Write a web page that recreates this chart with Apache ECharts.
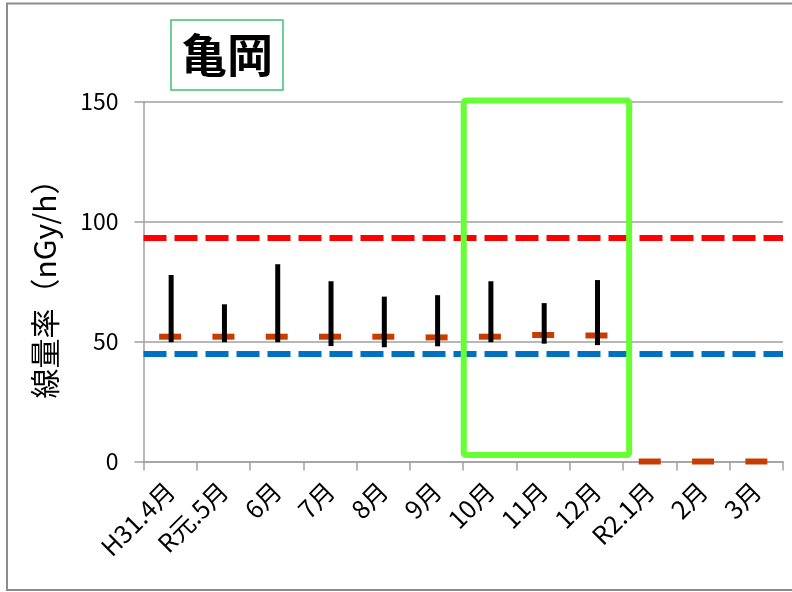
<!DOCTYPE html>
<html>
<head>
<meta charset="utf-8">
<script src="https://cdn.jsdelivr.net/npm/echarts@6/dist/echarts.min.js"></script>
<style>
html,body{margin:0;padding:0;background:#fff;}
#chart{width:792px;height:592px;}
</style>
</head>
<body>
<div id="chart"></div>
<script>
const categories = ['H31.4月','R元.5月','6月','7月','8月','9月','10月','11月','12月','R2.1月','2月','3月'];
const maxVals  = [77.7, 65.5, 82.2, 75.1, 68.7, 69.3, 75.1, 66.0, 75.6, null, null, null];
const minVals  = [49.7, 49.7, 49.7, 48.1, 47.6, 48.0, 49.7, 49.1, 48.5, null, null, null];
const meanVals = [52.0, 52.0, 52.0, 52.0, 52.0, 51.7, 52.0, 52.7, 52.5, 0, 0, 0];
const upperLimit = 93.4;
const lowerLimit = 44.7;
const yTicks = [0, 50, 100, 150];
const titleText = '亀岡';
const yName = '線量率（nGy/h）';

const FONT = '"Noto Sans CJK JP", "Noto Sans", sans-serif';
const chart = echarts.init(document.getElementById('chart'), null, {renderer: 'canvas'});

const rangeData = [];
categories.forEach((c, i) => {
  if (maxVals[i] != null && minVals[i] != null) rangeData.push([i, minVals[i], maxVals[i]]);
});

const option = {
  animation: false,
  backgroundColor: '#fff',
  title: {
    text: titleText,
    left: 171, top: 20,
    padding: [11, 10, 11, 10],
    borderColor: '#3CC36E', borderWidth: 1.5,
    textStyle: {fontFamily: FONT, fontSize: 46, fontWeight: 'bold', color: '#000', lineHeight: 48}
  },
  grid: {left: 143.5, right: 9, top: 101.5, bottom: 130.5, containLabel: false},
  xAxis: {
    type: 'category',
    data: categories,
    axisLine: {lineStyle: {color: '#A0A0A0', width: 1.5}},
    axisTick: {show: true, length: 9, lineStyle: {color: '#A0A0A0', width: 1.5}},
    axisLabel: {rotate: 45, fontSize: 25, color: '#000', fontFamily: FONT, margin: 25, interval: 0},
    splitLine: {show: false}
  },
  yAxis: {
    type: 'value', min: 0, max: 150, interval: 50,
    name: yName, nameLocation: 'middle', nameGap: 84, nameRotate: 90,
    nameTextStyle: {fontSize: 30, color: '#000', fontFamily: FONT},
    axisLine: {show: true, lineStyle: {color: '#A0A0A0', width: 1.5}},
    axisTick: {show: true, length: 9, lineStyle: {color: '#A0A0A0', width: 1.5}},
    axisLabel: {fontSize: 23, color: '#000', fontFamily: FONT, margin: 25},
    splitLine: {show: true, lineStyle: {color: '#A0A0A0', width: 1.5}}
  },
  series: [
    {
      type: 'scatter',
      data: meanVals,
      symbol: 'rect',
      symbolSize: [22, 6],
      itemStyle: {color: '#C83C00', opacity: 1},
      clip: false,
      z: 3,
      markLine: {
        silent: true, symbol: 'none', animation: false,
        label: {show: false},
        data: [
          {yAxis: upperLimit, lineStyle: {color: '#FF0000', width: 6, type: [23, 8], opacity: 1}},
          {yAxis: lowerLimit, lineStyle: {color: '#0070C0', width: 6, type: [23, 8], opacity: 1}}
        ]
      }
    },
    {
      type: 'custom',
      data: rangeData,
      z: 4,
      renderItem: function (params, api) {
        const x = api.value(0), lo = api.value(1), hi = api.value(2);
        const pTop = api.coord([x, hi]);
        const pBot = api.coord([x, lo]);
        return {
          type: 'rect',
          shape: {x: pTop[0] - 2.5 + 1, y: pTop[1], width: 5, height: pBot[1] - pTop[1]},
          style: {fill: '#000'}
        };
      }
    }
  ]
};
chart.setOption(option);

// Highlight box around 10月–12月 and outer frame, positioned from the axis scales
const c0 = chart.convertToPixel({xAxisIndex: 0}, 6);
const c1 = chart.convertToPixel({xAxisIndex: 0}, 7);
const c2 = chart.convertToPixel({xAxisIndex: 0}, 8);
const band = c1 - c0;
const yTop = chart.convertToPixel({yAxisIndex: 0}, 150);
const yBot = chart.convertToPixel({yAxisIndex: 0}, 2.7);
const bx0 = c0 - band / 2 + 0.5;
const bx1 = c2 + band / 2 + 6;
chart.setOption({
  graphic: [
    {
      type: 'rect', z: 100,
      shape: {x: bx0, y: yTop - 1, width: bx1 - bx0, height: yBot - yTop + 1, r: 2},
      style: {fill: 'none', stroke: '#66FF33', lineWidth: 6}
    },
    {
      type: 'rect', z: 100,
      shape: {x: 7, y: 3.5, width: 820, height: 586.5},
      style: {fill: 'none', stroke: '#8C8C8C', lineWidth: 2}
    }
  ]
});
</script>
</body>
</html>
